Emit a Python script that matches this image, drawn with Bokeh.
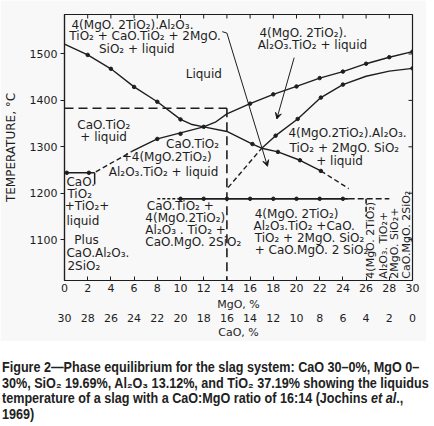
from bokeh.plotting import figure
from bokeh.models import (Range1d, LinearAxis, FixedTicker, Label, Arrow, VeeHead, Div)
from bokeh.layouts import column
from bokeh.embed import file_html
from bokeh.resources import INLINE

# ---------------- data (MgO %, temperature degC) ----------------
mgo_ticks = [0, 2, 4, 6, 8, 10, 12, 14, 16, 18, 20, 22, 24, 26, 28, 30]
cao_ticks = [30, 28, 26, 24, 22, 20, 18, 16, 14, 12, 10, 8, 6, 4, 2, 0]
temp_ticks = [1100, 1200, 1300, 1400, 1500]

# liquidus (upper curve)
liq_mgo = [0, 2, 4, 6, 8, 10, 11, 12, 13, 14, 16, 18, 20, 22, 24, 26, 28, 30]
liq_t = [1521, 1498, 1468, 1429, 1397, 1359, 1348, 1343, 1353, 1371, 1393, 1413, 1430, 1448, 1462, 1479, 1493, 1505]
liq_pts_mgo = [2, 4, 6, 8, 10, 12, 16, 18, 20, 22, 24, 26, 28, 30]
liq_pts_t = [1498, 1468, 1429, 1397, 1359, 1343, 1393, 1413, 1430, 1448, 1462, 1479, 1493, 1505]

# CaO.TiO2 / 4(MgO.2TiO2) boundary curve
b2_dash_mgo = [2.7, 5.8]
b2_dash_t = [1246, 1290]
b2_mgo = [5.8, 8, 10, 12, 14, 16.2, 17, 18.4, 20.3, 22.1]
b2_t = [1290, 1317, 1330, 1343, 1333, 1306, 1297, 1289, 1271, 1248]
b2_end_mgo = [22.1, 24.5]
b2_end_t = [1248, 1210]
b2_pts_mgo = [8, 10, 16.2, 18.4, 20.3, 22.1]
b2_pts_t = [1317, 1328, 1306, 1289, 1271, 1248]

# 4(MgO.2TiO2).Al2O3.TiO2 + liquid lower boundary
b3_dash_mgo = [14.1, 17]
b3_dash_t = [1212, 1297]
b3_mgo = [17, 18.2, 20.1, 22.1, 24, 26, 28, 30]
b3_t = [1297, 1324, 1360, 1406, 1434, 1452, 1463, 1469]
b3_pts_mgo = [18.2, 20.1, 22.1, 24, 30]
b3_pts_t = [1324, 1360, 1406, 1434, 1469]

# solidus-type horizontals
sol_t = 1188
sol_solid_mgo = [9.8, 24.5]
sol_dash_left_mgo = [8, 9.8]
sol_dash_right_mgo = [24.5, 28]
sol_pts_mgo = [10, 12, 14, 16, 18, 20, 22, 24]

left_t = 1244
left_mgo = [0, 2.6]
left_pts_mgo = [0.2, 2.1]
left_vert_mgo = 2.6
left_vert_t = [1244, 1219]

box_t = 1383
box_mgo = [0, 14]
box_vert_mgo = 14
box_vert_t = [1383, 1012]

v26_mgo = 26
v26_t = [1188, 1150]

X_MIN, X_MAX = 0, 30
T_MIN, T_MAX = 1012, 1585

# ---------------- styling ----------------
BG = "#f8f8f8"
INK = "#1e1e1e"
FONT = "DejaVu Sans"
FS = "12px"

p = figure(width=426, height=341, x_range=Range1d(X_MIN, X_MAX), y_range=Range1d(T_MIN, T_MAX),
           output_backend="svg", toolbar_location=None,
           min_border_left=59, min_border_right=14, min_border_top=14, min_border_bottom=58,
           background_fill_color=BG, border_fill_color=BG, outline_line_color=INK,
           outline_line_width=1.2)
p.grid.visible = False

xa = p.xaxis[0]
xa.ticker = FixedTicker(ticks=mgo_ticks)
xa.axis_label = "MgO, %"
ya = p.yaxis[0]
ya.ticker = FixedTicker(ticks=temp_ticks)
ya.axis_label = "TEMPERATURE, °C"

for ax in (xa, ya):
    ax.axis_line_color = INK
    ax.axis_line_width = 1.2
    ax.major_tick_line_color = INK
    ax.minor_tick_line_color = None
    ax.major_label_text_font = FONT
    ax.major_label_text_font_size = "11px"
    ax.major_label_text_color = INK
    ax.axis_label_text_font = FONT
    ax.axis_label_text_font_style = "normal"
    ax.axis_label_text_color = INK
xa.major_tick_in = 4
xa.major_tick_out = 0
xa.major_label_standoff = 3
xa.axis_label_standoff = 3
xa.axis_label_text_font_size = "11px"
ya.major_tick_in = 0
ya.major_tick_out = 4
ya.major_label_standoff = 3
ya.axis_label_standoff = 9
ya.axis_label_text_font_size = "12px"

p.extra_x_ranges = {"cao": Range1d(30, 0)}
cao = LinearAxis(x_range_name="cao", ticker=FixedTicker(ticks=cao_ticks), axis_label="CaO, %",
                 axis_line_color=None, major_tick_line_color=None, minor_tick_line_color=None,
                 major_tick_in=0, major_tick_out=0,
                 major_label_standoff=0, axis_label_standoff=1,
                 major_label_text_font=FONT, major_label_text_font_size="11px",
                 major_label_text_color=INK, axis_label_text_font=FONT,
                 axis_label_text_font_size="11px", axis_label_text_font_style="normal",
                 axis_label_text_color=INK)
p.add_layout(cao, "below")

# inward ticks on the top and right frame edges
p.ray(x=mgo_ticks, y=[T_MAX] * len(mgo_ticks), length=4, length_units="screen",
      angle=-90, angle_units="deg", line_color=INK, line_width=1)
p.ray(x=[X_MAX] * len(temp_ticks), y=temp_ticks, length=4, length_units="screen",
      angle=180, angle_units="deg", line_color=INK, line_width=1)

LW = 1.4
# curves
p.line(liq_mgo, liq_t, line_color=INK, line_width=LW)
p.line(b2_mgo, b2_t, line_color=INK, line_width=LW)
p.line(b2_dash_mgo, b2_dash_t, line_color=INK, line_width=LW, line_dash="5 3")
p.line(b2_end_mgo, b2_end_t, line_color=INK, line_width=LW, line_dash="5 3")
p.line(b3_mgo, b3_t, line_color=INK, line_width=LW)
p.line(b3_dash_mgo, b3_dash_t, line_color=INK, line_width=LW, line_dash="5 3")

# horizontals / verticals
p.line(sol_solid_mgo, [sol_t, sol_t], line_color=INK, line_width=1.7)
p.line(sol_dash_left_mgo, [sol_t, sol_t], line_color=INK, line_width=1.4, line_dash="3 2")
p.line(sol_dash_right_mgo, [sol_t, sol_t], line_color=INK, line_width=1.5, line_dash="6 3")
p.line(left_mgo, [left_t, left_t], line_color=INK, line_width=1.5)
p.line([left_vert_mgo, left_vert_mgo], left_vert_t, line_color=INK, line_width=1.5)
p.line(box_mgo, [box_t, box_t], line_color=INK, line_width=1.6, line_dash="9 5")
p.line([box_vert_mgo, box_vert_mgo], box_vert_t, line_color=INK, line_width=1.6, line_dash="9 5")
p.line([v26_mgo, v26_mgo], v26_t, line_color=INK, line_width=1.6, line_dash="5 3")

# experimental points
pts_x = liq_pts_mgo + b2_pts_mgo + b3_pts_mgo + sol_pts_mgo + left_pts_mgo
pts_y = liq_pts_t + b2_pts_t + b3_pts_t + [sol_t] * len(sol_pts_mgo) + [left_t] * len(left_pts_mgo)
p.scatter(pts_x, pts_y, size=3.5, color=INK)

# arrows
p.line([13.6, 14.0], [1548, 1545], line_color=INK, line_width=1)
p.add_layout(Arrow(end=VeeHead(size=6, line_color=INK, line_width=1), x_start=14.0, y_start=1545,
                   x_end=17.5, y_end=1258, line_color=INK, line_width=1))
p.add_layout(Arrow(end=VeeHead(size=6, line_color=INK, line_width=1), x_start=19.8, y_start=1492,
                   x_end=18.3, y_end=1360, line_color=INK, line_width=1))


def lab(x, y, t, angle=0, size=FS):
    p.add_layout(Label(x=x, y=y, text=t, text_font=FONT, text_font_size=size,
                       text_color=INK, text_baseline="middle", text_align="left",
                       angle=angle, angle_units="deg"))


lab(0.6, 1563, "4(MgO. 2TiO₂).Al₂O₃.")
lab(0.42, 1538, "TiO₂ + CaO.TiO₂ + 2MgO.")
lab(2.97, 1510, "SiO₂  + liquid")
lab(16.8, 1546, "4(MgO. 2TiO₂).")
lab(16.65, 1519, "Al₂O₃.TiO₂ + liquid")
lab(10.45, 1457, "Liquid")
lab(1.1, 1348, "CaO.TiO₂")
lab(1.36, 1322, "+ liquid")
lab(8.75, 1307, "CaO.TiO₂")
lab(4.93, 1277, "+4(MgO.2TiO₂)")
lab(3.82, 1245, "Al₂O₃.TiO₂ + liquid")
lab(19.3, 1330, "4(MgO.2TiO₂).Al₂O₃.")
lab(19.4, 1298, "TiO₂ + 2MgO. SiO₂")
lab(21.7, 1270, "+ liquid")
lab(7.1, 1172, "CaO.TiO₂ +")
lab(6.97, 1147, "4(MgO.2TiO₂)")
lab(6.97, 1121, "Al₂O₃ . TiO₂ +")
lab(6.97, 1095, "CaO.MgO. 2SiO₂")
lab(16.4, 1155, "4(MgO. 2TiO₂)")
lab(16.3, 1130, "Al₂O₃.TiO₂ +CaO.")
lab(16.4, 1104, "TiO₂ + 2MgO. SiO₂")
lab(16.4, 1078, "+ CaO.MgO. 2 SiO₂")
lab(0.17, 1224, "CaO.")
lab(0.25, 1198, "TiO₂")
lab(0.02, 1172, "+TiO₂+")
lab(0.17, 1140, "liquid")
lab(0.85, 1099, "Plus")
lab(0.17, 1072, "CaO.Al₂O₃.")
lab(0.25, 1044, "2SiO₂")
lab(26.4, 1016, "4(MgO. 2TiO₂)", angle=90, size="11px")
lab(27.5, 1016, "Al₂O₃. TiO₂+", angle=90, size="11px")
lab(28.45, 1016, "2MgO. SiO₂+", angle=90, size="11px")
lab(29.5, 1016, "CaO.MgO. 2SiO₂", angle=90, size="11px")

caption = Div(width=426, height=76, text=(
    '<div style="position:relative;left:-3px;padding-top:14px;'
    'font-family:\'Liberation Sans\',Arial,sans-serif;transform:scaleX(0.9);transform-origin:left top;'
    'font-weight:bold;font-size:14px;line-height:15.5px;color:#222;white-space:nowrap;">'
    'Figure 2—Phase equilibrium for the slag system: CaO 30–0%, MgO 0–<br>'
    '30%, SiO₂ 19.69%, Al₂O₃ 13.12%, and TiO₂ 37.19% showing the liquidus<br>'
    'temperature of a slag with a CaO:MgO ratio of 16:14 (Jochins <i>et al</i>.,<br>'
    '1969)</div>'))

layout = column(p, caption)
open("out.html", "w").write(file_html(layout, INLINE))
